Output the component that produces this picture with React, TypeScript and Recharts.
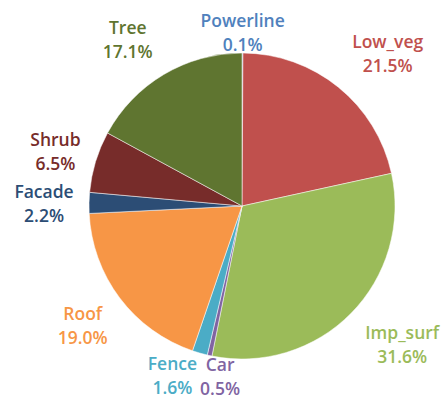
import { PieChart, Pie, Cell } from "recharts";

// classes, clockwise from 12 o'clock
const classes = [
  "Powerline",
  "Low_veg",
  "Imp_surf",
  "Car",
  "Fence",
  "Roof",
  "Facade",
  "Shrub",
  "Tree",
];
const shares = [0.1, 21.5, 31.6, 0.5, 1.6, 19.0, 2.2, 6.5, 17.1];

const SLICE_COLORS = [
  "#7f9cc0",
  "#c0504d",
  "#9bbb59",
  "#8064a2",
  "#4bacc6",
  "#f79646",
  "#2c4d75",
  "#772c2a",
  "#5f7530",
];
const LABEL_COLORS = [
  "#4f81bd",
  "#c0504d",
  "#9bbb59",
  "#8064a2",
  "#4bacc6",
  "#f79646",
  "#2c4d75",
  "#772c2a",
  "#5f7530",
];

// small nudges so labels sit where the original put them
const LABEL_NUDGE: Record<string, [number, number]> = {
  Powerline: [0, 25],
  Low_veg: [21, 2],
  Imp_surf: [19, 0],
  Car: [20, -23],
  Fence: [-15, -20],
  Roof: [-1, 1],
  Facade: [0, 2],
  Shrub: [3, 3],
  Tree: [-13, 4],
};

const data = classes.map((name, i) => ({ name, value: shares[i] }));

const RADIAN = Math.PI / 180;

const renderLabel = ({ cx, cy, midAngle, outerRadius, index }: any) => {
  const name = classes[index];
  const r = outerRadius + 45;
  const [dx, dy] = LABEL_NUDGE[name] || [0, 0];
  const x = cx + r * Math.cos(-midAngle * RADIAN) + dx;
  const y = cy + r * Math.sin(-midAngle * RADIAN) + dy;
  return (
    <text
      x={x}
      y={y}
      fill={LABEL_COLORS[index]}
      textAnchor="middle"
      fontFamily="'Open Sans', sans-serif"
      fontWeight={600}
      fontSize={17.5}
    >
      <tspan x={x} dy={-6}>
        {name}
      </tspan>
      <tspan x={x} dy={24}>
        {`${shares[index].toFixed(1)}%`}
      </tspan>
    </text>
  );
};

export default function App() {
  return (
    <div
      style={{
        position: "absolute",
        left: 0,
        top: 0,
        width: 441,
        height: 400,
        background: "#fff",
      }}
    >
      <PieChart
        width={441}
        height={400}
        margin={{ top: 0, right: 0, bottom: 0, left: 0 }}
      >
        <Pie
          data={data}
          dataKey="value"
          nameKey="name"
          cx={242}
          cy={206}
          outerRadius={153}
          startAngle={90}
          endAngle={-270}
          stroke="#ffffff"
          strokeWidth={0.5}
          labelLine={false}
          label={renderLabel}
          isAnimationActive={false}
        >
          {data.map((_d, i) => (
            <Cell key={`cell-${i}`} fill={SLICE_COLORS[i]} />
          ))}
        </Pie>
      </PieChart>
    </div>
  );
}
